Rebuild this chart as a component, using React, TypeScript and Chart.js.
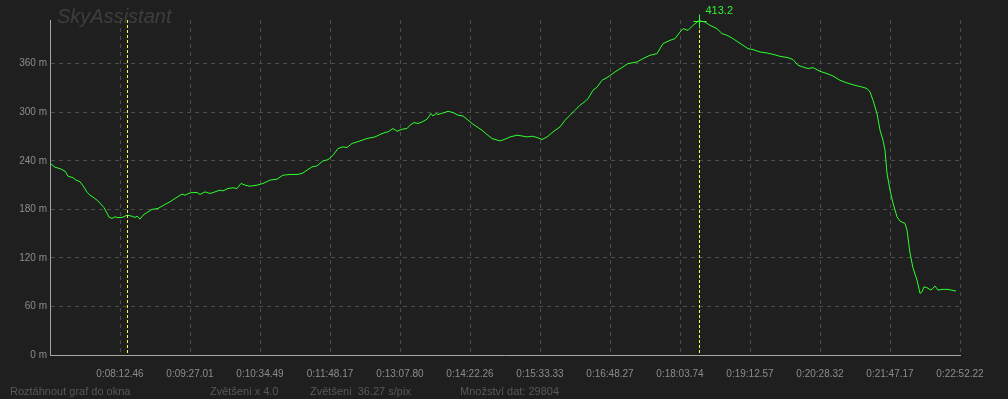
import React, { useEffect, useRef } from "react";
import { Chart, registerables } from "chart.js";

Chart.register(...registerables);

// x position in chart columns (36.27 s per column), altitude in metres
const positions = [
  0, 5, 10, 15, 18, 23, 26, 30, 34, 37, 40, 43, 47, 50, 54, 57, 59, 62, 65, 68,
  72, 77, 82, 85, 87, 90, 93, 98, 102, 108, 115, 120, 125, 132, 135, 140, 147, 150, 155, 160,
  165, 170, 173, 178, 183, 187, 191, 195, 200, 207, 213, 220, 227, 233, 240, 247, 252, 257, 262, 267,
  273, 278, 283, 288, 293, 297, 302, 307, 312, 317, 320, 325, 330, 335, 338, 343, 347, 352, 357, 360,
  364, 368, 372, 377, 381, 383, 386, 388, 393, 398, 403, 408, 413, 417, 422, 427, 432, 437, 442, 450,
  455, 460, 467, 472, 477, 482, 487, 492, 497, 503, 510, 515, 520, 525, 530, 534, 538, 543, 547, 552,
  558, 565, 572, 578, 587, 593, 600, 607, 613, 620, 625, 630, 633, 638, 643, 649, 655, 660, 667, 672,
  677, 683, 688, 693, 698, 703, 710, 717, 723, 730, 738, 743, 748, 753, 758, 763, 770, 777, 783, 790,
  797, 805, 812, 817, 820, 823, 827, 830, 833, 835, 837, 840, 843, 847, 850, 855, 857, 860, 863, 867,
  870, 872, 874, 877, 881, 885, 888, 892, 898, 906,
];

const altitudes = [
  237.0, 232.1, 230.3, 227.2, 221.0, 219.1, 216.1, 214.2, 207.4, 201.2, 197.5, 195.1, 191.4, 187.7, 182.1, 175.3, 170.4, 168.8, 170.7, 169.8,
  170.0, 172.8, 171.6, 170.0, 171.6, 167.9, 172.8, 176.9, 179.9, 181.1, 186.1, 189.3, 193.5, 198.8, 197.5, 200.4, 200.9, 198.4, 201.6, 199.6,
  201.6, 203.7, 202.8, 205.8, 206.6, 205.8, 212.0, 209.9, 208.6, 209.9, 212.0, 216.1, 217.3, 222.2, 223.1, 223.1, 224.3, 228.4, 232.5, 233.7,
  239.9, 241.4, 246.9, 255.2, 257.2, 256.4, 261.4, 263.3, 265.4, 267.5, 268.3, 269.5, 272.5, 275.0, 275.7, 279.9, 276.5, 279.0, 279.9, 284.0,
  287.3, 286.1, 288.0, 291.4, 298.4, 295.4, 298.4, 297.2, 299.1, 301.2, 299.6, 296.3, 295.4, 291.4, 286.1, 281.9, 277.8, 272.5, 267.5, 264.6,
  266.7, 269.5, 271.6, 270.7, 269.5, 270.4, 268.8, 266.3, 269.5, 275.7, 281.9, 290.1, 296.3, 302.5, 308.7, 312.3, 316.7, 327.2, 330.9, 339.5,
  343.6, 349.8, 355.2, 360.1, 362.1, 366.3, 370.4, 372.5, 384.8, 388.9, 391.0, 399.1, 403.3, 401.2, 407.4, 413.2, 411.5, 407.4, 403.3, 397.2,
  395.1, 391.0, 386.8, 382.7, 378.6, 377.4, 374.5, 373.2, 371.6, 369.1, 367.5, 365.1, 358.0, 355.9, 354.0, 355.2, 350.6, 347.8, 344.8, 339.5,
  336.2, 333.3, 331.2, 329.3, 325.1, 314.8, 298.4, 277.8, 265.4, 253.1, 224.7, 203.7, 187.7, 170.7, 165.4, 162.6, 154.3, 125.9, 107.4, 92.6,
  76.2, 78.1, 84.3, 83.1, 80.2, 85.2, 80.2, 81.1, 81.1, 79.0,
];

const xTickPositions = [70, 140, 210, 280, 350, 420, 490, 560, 630, 700, 770, 840, 910];
const xTickLabels = [
  "0:08:12.46", "0:09:27.01", "0:10:34.49", "0:11:48.17", "0:13:07.80", "0:14:22.26", "0:15:33.33",
  "0:16:48.27", "0:18:03.74", "0:19:12.57", "0:20:28.32", "0:21:47.17", "0:22:52.22",
];
const yTickValues = [0, 60, 120, 180, 240, 300, 360];
const markerPositions = [77, 649];
const peakLabel = "413.2";
const titleText = "SkyAssistant";
const statusTexts = ["Roztáhnout graf do okna", "Zvětšeni x 4.0", "Zvětšeni  36.27 s/pix", "Množství dat: 29804"];

// layout / style
const W = 1008;
const H = 399;
const STATUS_X = [10, 210, 310, 460];
const BG = "#1f1f1f";
const FONT = "'Liberation Sans', Arial, sans-serif";

const overlayPlugin = {
  id: "overlay",
  beforeDraw(chart: any) {
    const ctx = chart.ctx;
    ctx.save();
    ctx.fillStyle = BG;
    ctx.fillRect(0, 0, chart.width, chart.height);
    ctx.restore();
  },
  afterDatasetsDraw(chart: any) {
    const { ctx, chartArea, scales } = chart;
    const xs = scales.x;
    const ys = scales.y;
    ctx.save();
    // title (watermark)
    ctx.fillStyle = "#3e3e3e";
    ctx.font = "italic 20px " + FONT;
    ctx.textBaseline = "alphabetic";
    ctx.fillText(titleText, 57, 23);

    // yellow marker lines
    ctx.strokeStyle = "#ffff48";
    ctx.lineWidth = 1;
    ctx.setLineDash([3, 2]);
    markerPositions.forEach((p) => {
      const px = Math.round(xs.getPixelForValue(p)) + 0.5;
      ctx.beginPath();
      ctx.moveTo(px, chartArea.top);
      ctx.lineTo(px, chartArea.bottom);
      ctx.stroke();
    });
    ctx.setLineDash([]);

    // peak cross + label
    let pi = 0;
    altitudes.forEach((v, i) => {
      if (v > altitudes[pi]) pi = i;
    });
    const px = Math.round(xs.getPixelForValue(positions[pi])) + 0.5;
    const py = Math.round(ys.getPixelForValue(altitudes[pi])) + 0.5;
    ctx.strokeStyle = "#33ff33";
    ctx.beginPath();
    ctx.moveTo(px - 6, py);
    ctx.lineTo(px + 7, py);
    ctx.moveTo(px, py - 7);
    ctx.lineTo(px, py + 7);
    ctx.stroke();
    ctx.fillStyle = "#33ee33";
    ctx.font = "11px " + FONT;
    ctx.fillText(peakLabel, px + 6, py - 8);

    // status bar
    ctx.fillStyle = "#585858";
    ctx.font = "11px " + FONT;
    statusTexts.forEach((t, i) => ctx.fillText(t, STATUS_X[i], 395));
    ctx.restore();
  },
};

export default function App() {
  const ref = useRef<HTMLCanvasElement | null>(null);

  useEffect(() => {
    if (!ref.current) return;
    const data = positions.map((p, i) => ({ x: p, y: altitudes[i] }));
    const chart = new Chart(ref.current, {
      type: "line",
      data: {
        datasets: [
          {
            data,
            borderColor: "#2cff2c",
            borderWidth: 1,
            pointRadius: 0,
            tension: 0,
            fill: false,
          },
        ],
      },
      options: {
        responsive: false,
        animation: false,
        devicePixelRatio: 1,
        layout: { padding: { left: 0, top: 20, right: 48, bottom: 0 } },
        plugins: { legend: { display: false }, tooltip: { enabled: false } },
        scales: {
          x: {
            type: "linear",
            min: 0,
            max: 910,
            afterBuildTicks: (scale: any) => {
              scale.ticks = xTickPositions.map((v) => ({ value: v }));
            },
            afterFit: (scale: any) => {
              scale.height = 44;
            },
            ticks: {
              autoSkip: false,
              maxRotation: 0,
              color: "#8c8c8c",
              font: { family: FONT, size: 10 },
              padding: 13,
              callback: (v: any) => {
                const i = xTickPositions.indexOf(Number(v));
                return i >= 0 ? xTickLabels[i] : "";
              },
            },
            grid: { color: "#4c4c4c", drawTicks: false, lineWidth: 1 },
            border: { color: "#a6a6a6", width: 1, dash: [4, 4] },
          },
          y: {
            type: "linear",
            min: 0,
            max: 414,
            afterBuildTicks: (scale: any) => {
              scale.ticks = yTickValues.map((v) => ({ value: v }));
            },
            afterFit: (scale: any) => {
              scale.width = 50;
            },
            ticks: {
              color: "#8c8c8c",
              font: { family: FONT, size: 10 },
              padding: 3,
              callback: (v: any) => v + " m",
            },
            grid: { color: "#4c4c4c", drawTicks: false, lineWidth: 1 },
            border: { color: "#a6a6a6", width: 1, dash: [4, 4] },
          },
        },
      },
      plugins: [overlayPlugin],
    });
    return () => chart.destroy();
  }, []);

  return (
    <div style={{ position: "fixed", left: 0, top: 0, width: W, height: H, background: BG }}>
      <canvas ref={ref} width={W} height={H} style={{ display: "block" }} />
    </div>
  );
}
